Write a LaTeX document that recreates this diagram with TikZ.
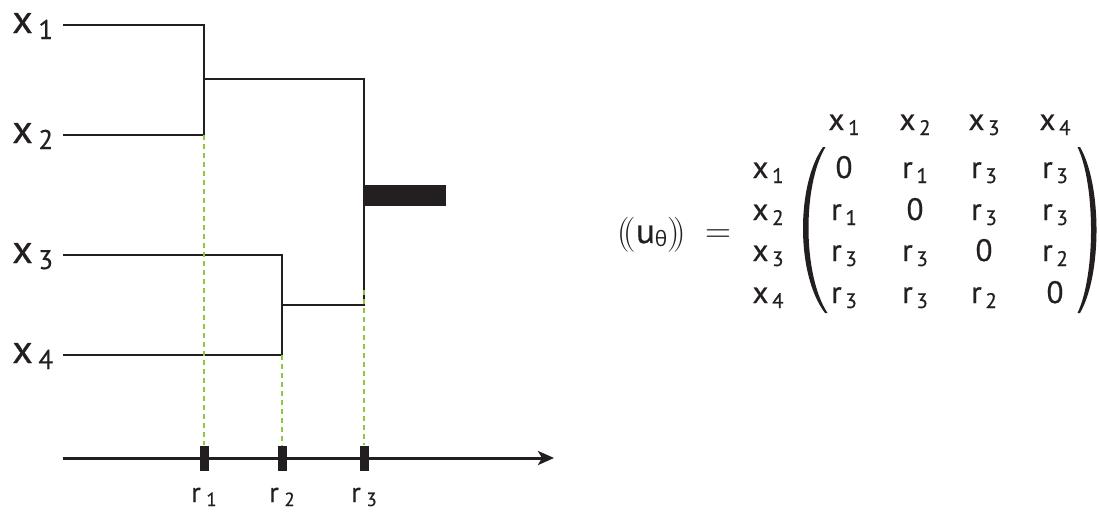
\documentclass[tikz,border=0pt]{standalone}
\usepackage{fontspec}
\setmainfont[FakeBold=0.5]{PT Sans}
\newfontfamily\gkfont{Open Sans}
\newfontfamily\lmfont{Latin Modern Roman}
\usetikzlibrary{arrows.meta}
\definecolor{ink}{HTML}{231F20}
\definecolor{guidegreen}{HTML}{8DC63F}
\newcommand{\bigsub}[1]{\kern0.14em\raisebox{-6pt}{\fontsize{27}{27}\selectfont #1}}
\newcommand{\smsub}[1]{\kern0.12em\raisebox{-5pt}{\fontsize{21}{21}\selectfont #1}}
\newcommand{\tinysub}[1]{\kern0.2em\raisebox{-4pt}{\fontsize{19}{19}\selectfont #1}}
\tikzset{
  tree/.style={draw=ink, line width=2pt},
  guide/.style={draw=guidegreen, line width=1.3pt, dash pattern=on 5pt off 4pt},
  leaflabel/.style={text=ink, inner sep=0pt, anchor=base west, font=\fontsize{40}{40}\selectfont},
  ent/.style={text=ink, inner sep=0pt, anchor=base, font=\fontsize{31}{31}\selectfont},
  ticklabel/.style={text=ink, inner sep=0pt, anchor=base, font=\fontsize{28}{28}\selectfont},
  tickmark/.style={fill=ink, inner sep=0pt, minimum width=9pt, minimum height=25pt},
  axisline/.style={draw=ink, line width=3pt, -{Stealth[length=16pt,width=14pt,inset=4pt]}},
}
\begin{document}
\begin{tikzpicture}[x=1pt,y=-1pt]
\useasboundingbox (0,0) rectangle (1099,512);
% leaves
\coordinate (l1) at (63,25);
\coordinate (l2) at (63,135);
\coordinate (l3) at (63,255);
\coordinate (l4) at (63,355);
\coordinate (j12) at (204,79);
\coordinate (j34) at (282,305);
\coordinate (root) at (364,195.5);
\coordinate (g3) at (364,290);
% leaf labels
\node[leaflabel] (lx1) at (12,33) {x\bigsub{1}};
\node[leaflabel] (lx2) at (12,143) {x\bigsub{2}};
\node[leaflabel] (lx3) at (12,263) {x\bigsub{3}};
\node[leaflabel] (lx4) at (12,363) {x\bigsub{4}};
% tree
\draw[tree] (l1) -| (j12) |- (l2);
\draw[tree] (l3) -| (j34) |- (l4);
\draw[tree] (j12) -| (root) |- (j34);
\node[fill=ink, inner sep=0pt, minimum width=82pt, minimum height=21pt, anchor=west] (bar) at (root) {};
% axis
\coordinate (a0) at (63,458);
\coordinate (a1) at (554,458);
\draw[axisline] (a0) -- (a1);
\node[tickmark] (t1) at (204,458) {};
\node[tickmark] (t2) at (282,458) {};
\node[tickmark] (t3) at (364,458) {};
\node[ticklabel] (r1) at (204,502) {r\tinysub{1}};
\node[ticklabel] (r2) at (282,502) {r\tinysub{2}};
\node[ticklabel] (r3) at (364,502) {r\tinysub{3}};
% guides
\draw[guide] (l2 -| t1) -- (t1.north);
\draw[guide] (l4 -| t2) -- (t2.north);
\draw[guide] (g3) -- (t3.north);
% equation
\node[text=ink, inner sep=0pt, anchor=base west, font=\fontsize{35}{35}\selectfont] (lhs) at (617,243)
  {{\lmfont (\kern-6pt(}u\raisebox{-3pt}{\fontsize{21}{21}\gkfont θ}{\lmfont )\kern-6pt)}};
\node[text=ink, inner sep=0pt, font=\fontsize{36}{36}\lmfont] (eq) at (718,236) {=};
% headers
\node[ent] (h1) at (844,130) {x\smsub{1}};
\node[ent] (h2) at (915,130) {x\smsub{2}};
\node[ent] (h3) at (984,130) {x\smsub{3}};
\node[ent] (h4) at (1055,130) {x\smsub{4}};
\node[ent] (v1) at (768,178) {x\smsub{1}};
\node[ent] (v2) at (768,220) {x\smsub{2}};
\node[ent] (v3) at (768,261) {x\smsub{3}};
\node[ent] (v4) at (768,303) {x\smsub{4}};
% entries
\node[ent] (m11) at (844,178) {0};
\node[ent] (m12) at (915,178) {r\smsub{1}};
\node[ent] (m13) at (984,178) {r\smsub{3}};
\node[ent] (m14) at (1055,178) {r\smsub{3}};
\node[ent] (m21) at (844,220) {r\smsub{1}};
\node[ent] (m22) at (915,220) {0};
\node[ent] (m23) at (984,220) {r\smsub{3}};
\node[ent] (m24) at (1055,220) {r\smsub{3}};
\node[ent] (m31) at (844,261) {r\smsub{3}};
\node[ent] (m32) at (915,261) {r\smsub{3}};
\node[ent] (m33) at (984,261) {0};
\node[ent] (m34) at (1055,261) {r\smsub{2}};
\node[ent] (m41) at (844,303) {r\smsub{3}};
\node[ent] (m42) at (915,303) {r\smsub{3}};
\node[ent] (m43) at (984,303) {r\smsub{2}};
\node[ent] (m44) at (1055,303) {0};
% matrix parentheses
\fill[ink] (823,147) .. controls (796,185) and (796,275) .. (825,313)
  -- (827.5,313) .. controls (802.5,275) and (802.5,185) .. (825.5,147) -- cycle;
\fill[ink] (1080,147) .. controls (1102,185) and (1102,275) .. (1080,313)
  -- (1077.5,313) .. controls (1095.5,275) and (1095.5,185) .. (1077.5,147) -- cycle;
\end{tikzpicture}
\end{document}
